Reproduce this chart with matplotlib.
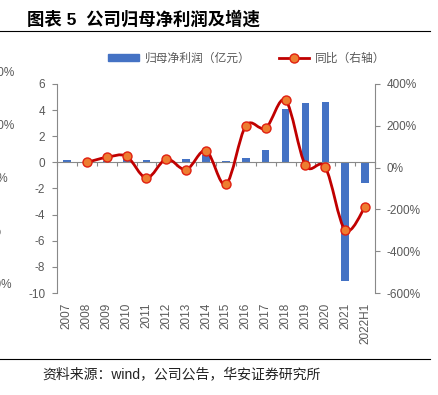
import matplotlib
matplotlib.use("Agg")
import matplotlib.pyplot as plt
import numpy as np
from matplotlib.path import Path
from matplotlib.patches import PathPatch, Patch
from matplotlib.lines import Line2D
from matplotlib.ticker import FuncFormatter

plt.rcParams['font.family'] = ['Liberation Sans', 'Noto Sans CJK SC', 'DejaVu Sans']
plt.rcParams['axes.unicode_minus'] = False

years = ['2007', '2008', '2009', '2010', '2011', '2012', '2013', '2014',
         '2015', '2016', '2017', '2018', '2019', '2020', '2021', '2022H1']
profit = [0.15, 0.05, 0.10, 0.35, 0.22, 0.08, 0.25, 0.55,
          0.12, 0.33, 0.95, 4.05, 4.57, 4.65, -9.10, -1.56]
yoy = [np.nan, 25, 49, 54, -50, 41, -10, 81,
       -80, 200, 189, 322, 11, 1, -299, -188]
left_ticks = list(range(-10, 7, 2))
right_ticks = list(range(-600, 401, 200))
ghost_labels = ['150%', '100%', '50%', '0%', '-50%']

GRAY = '#898989'
TXT = '#595959'
BLUE = '#4472C4'
RED = '#C00000'
ORANGE = '#ED7D31'
W, H = 439, 395


def smooth_path(xs, ys):
    # excel-like smoothed line: catmull-rom turned into cubic bezier segments
    pts = np.column_stack([xs, ys])
    n = len(pts)
    verts = [pts[0]]
    codes = [Path.MOVETO]
    for i in range(n - 1):
        p0 = pts[max(i - 1, 0)]
        p1 = pts[i]
        p2 = pts[i + 1]
        p3 = pts[min(i + 2, n - 1)]
        verts += [p1 + (p2 - p0) / 6, p2 - (p3 - p1) / 6, p2]
        codes += [Path.CURVE4] * 3
    return Path(verts, codes)


fig = plt.figure(figsize=(W / 100, H / 100), dpi=100)
ax = fig.add_axes([57 / W, 1 - 293 / H, 318 / W, 209 / H])

x = np.arange(len(years))
ax.bar(x, profit, width=0.38, color=BLUE, zorder=2)
ax.set_xlim(-0.5, len(years) - 0.5)
ax.set_ylim(-10, 6)
ax.set_yticks(left_ticks)
for s in ['top', 'right']:
    ax.spines[s].set_visible(False)
ax.spines['left'].set_color(GRAY)
ax.spines['bottom'].set_color(GRAY)
ax.spines['bottom'].set_position(('data', 0))
ax.set_xticks(np.arange(-0.5, len(years), 1))
ax.tick_params(axis='x', length=3, color=GRAY, labelbottom=False)
ax.tick_params(axis='y', length=3.5, color=GRAY, labelcolor=TXT, labelsize=8.5, pad=5)

sec = ax.secondary_xaxis(0)
sec.set_xticks(x, years, rotation=90)
sec.tick_params(length=0, pad=7, labelsize=8.5, labelcolor=TXT)
sec.spines['bottom'].set_visible(False)

ax2 = ax.twinx()
ax2.set_ylim(-600, 400)
ax2.set_yticks(right_ticks)
ax2.yaxis.set_major_formatter(FuncFormatter(lambda v, p: f'{int(v)}%'))
for s in ['top', 'left', 'bottom']:
    ax2.spines[s].set_visible(False)
ax2.spines['right'].set_color(GRAY)
ax2.tick_params(axis='y', length=3.5, color=GRAY, labelcolor=TXT, labelsize=8.5, pad=5)

yoy = np.array(yoy, dtype=float)
ok = ~np.isnan(yoy)
ax2.add_patch(PathPatch(smooth_path(x[ok], yoy[ok]), facecolor='none',
                        edgecolor=RED, lw=2, zorder=3))
ax2.plot(x[ok], yoy[ok], 'o', ms=6.5, mfc=ORANGE, mec='#E02010', mew=1, zorder=4)

handles = [Patch(color=BLUE),
           Line2D([], [], color=RED, lw=2, marker='o', ms=6.5, mfc=ORANGE, mec='#E02010')]
fig.legend(handles, ['归母净利润（亿元）', '同比（右轴）'], loc='center',
           bbox_to_anchor=(247 / W, 1 - 58 / H), ncol=2, frameon=False,
           prop={'family': ['Noto Sans CJK SC'], 'size': 8.5},
           handlelength=2.6, handleheight=0.5, handletextpad=0.5,
           columnspacing=2.4, labelcolor=TXT)

fig.text(27 / W, 1 - 19 / H, '图表 5  公司归母净利润及增速', fontsize=12.5,
         fontweight='bold', ha='left', va='center',
         family=['Liberation Sans', 'Noto Sans CJK SC'])
fig.add_artist(Line2D([0, 430 / W], [1 - 31 / H] * 2, color='black', lw=0.8))
fig.add_artist(Line2D([0, 430 / W], [1 - 359 / H] * 2, color='black', lw=0.8))
fig.text(42 / W, 1 - 374 / H, '资料来源：wind，公司公告，华安证券研究所', fontsize=10,
         ha='left', va='center', color='#222222',
         family=['Liberation Sans', 'Noto Sans CJK SC'])

# cut-off labels of a neighbouring chart at the left edge (cropped in the reference too)
for i, t in enumerate(ghost_labels):
    fig.text(-16 / W, 1 - (73 + 53 * i) / H, t, fontsize=8.5, color=TXT,
             ha='left', va='center')

fig.savefig('out.png', dpi=100)
